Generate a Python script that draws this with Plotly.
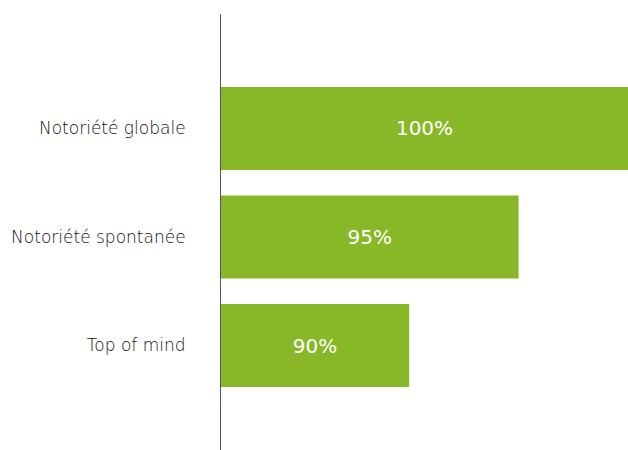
import plotly.graph_objects as go

categories = ["Notoriété globale", "Notoriété spontanée", "Top of mind"]
values = [100, 95, 90]
value_labels = ["100%", "95%", "90%"]

axis_start = 81.4

fig = go.Figure(go.Bar(
    x=[v - axis_start for v in values], y=categories, orientation="h",
    base=axis_start,
    marker=dict(color="#88B827", line=dict(width=0)),
    text=value_labels, textposition="inside", insidetextanchor="middle",
    textfont=dict(color="white", size=20, family="DejaVu Sans"),
    hoverinfo="skip",
))

fig.update_layout(
    width=628, height=450,
    margin=dict(l=221, r=0, t=14, b=0),
    plot_bgcolor="white", paper_bgcolor="white",
    bargap=0.235,
    showlegend=False,
    font=dict(family="DejaVu Sans", color="#333333", size=17),
    uniformtext=dict(minsize=20, mode="show"),
    xaxis=dict(range=[axis_start, 100], visible=False, showgrid=False, zeroline=False),
    yaxis=dict(
        autorange=False, range=[2.963, -1.055],
        showline=True, linecolor="#555555", linewidth=1,
        showgrid=False, zeroline=False, ticks="",
        ticklabelstandoff=31,
        tickfont=dict(size=17, color="#111111", family="DejaVu Sans", weight=300),
    ),
)

fig.write_html("out.html", config={"displayModeBar": False},
               post_script="document.body.style.margin='0';")
